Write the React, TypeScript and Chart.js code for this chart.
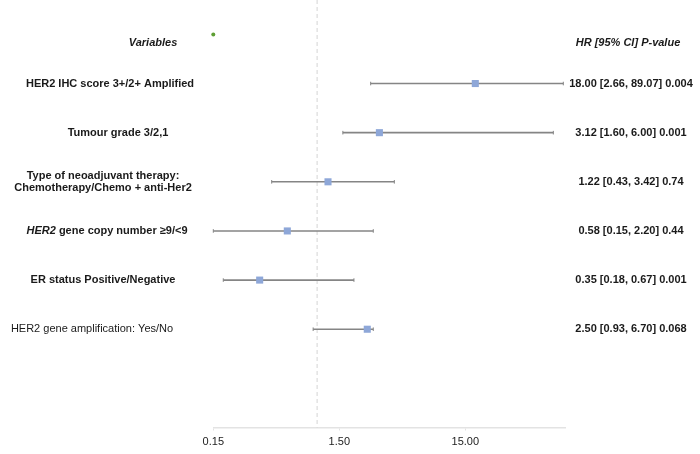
import React, { useEffect, useRef } from "react";
import { Chart, registerables } from "chart.js";

Chart.register(...registerables);

// ---------- data ----------
const VARIABLES = [
  "HER2 IHC score 3+/2+ Amplified",
  "Tumour grade 3/2,1",
  "Type of neoadjuvant therapy:\nChemotherapy/Chemo + anti-Her2",
  "*HER2* gene copy number \u22659/<9",
  "ER status Positive/Negative",
  "HER2 gene amplification: Yes/No",
];
const VARIABLE_BOLD = [true, true, true, true, true, false];
const HR = [18.0, 3.12, 1.22, 0.58, 0.35, 2.5];
const CI_LOW = [2.66, 1.6, 0.436, 0.15, 0.18, 0.93];
const CI_HIGH = [89.9, 74.9, 4.1, 2.79, 1.96, 2.79];
const RESULT_LABELS = [
  "18.00 [2.66, 89.07] 0.004",
  "3.12 [1.60, 6.00] 0.001",
  "1.22 [0.43, 3.42] 0.74",
  "0.58 [0.15, 2.20] 0.44",
  "0.35 [0.18, 0.67] 0.001",
  "2.50 [0.93, 6.70] 0.068",
];
const X_TICKS = [0.15, 1.5, 15];
const X_MIN = 0.15;
const X_MAX = 92.7;
const REFERENCE_HR = 1;
const MARKER_POINT = { x: 0.15, y: 0 };
const HEADER_LEFT = "Variables";
const HEADER_RIGHT = "HR [95% CI] P-value";

// ---------- layout (not data) ----------
const Y_MIN = -0.7;
const Y_MAX = 8;
const HEADER_ROW = 0.18;
const LABEL_CENTER_X = [110, 118, 103, 107, 103, 92];
const HEADER_LEFT_X = 153;
const RESULT_CENTER_X = 631;
const HEADER_RIGHT_X = 628;
const FONT = '"Liberation Sans", Arial, Helvetica, sans-serif';

function drawRich(ctx: CanvasRenderingContext2D, line: string, cx: number, y: number, bold: boolean) {
  const parts = line.split("*");
  const w = bold ? "bold " : "";
  const fonts = parts.map((_, i) => (i % 2 === 1 ? `italic ${w}11px ${FONT}` : `${w}11px ${FONT}`));
  let total = 0;
  const widths = parts.map((p, i) => {
    ctx.font = fonts[i];
    const m = ctx.measureText(p).width;
    total += m;
    return m;
  });
  let x = cx - total / 2;
  parts.forEach((p, i) => {
    ctx.font = fonts[i];
    ctx.textAlign = "left";
    ctx.fillText(p, x, y);
    x += widths[i];
  });
}

const textPlugin = {
  id: "forestText",
  afterDraw(chart: any) {
    const ctx = chart.ctx as CanvasRenderingContext2D;
    const ys = chart.scales.y;
    ctx.save();
    ctx.fillStyle = "#1a1a1a";
    ctx.textBaseline = "middle";
    const hy = ys.getPixelForValue(HEADER_ROW);
    ctx.font = `italic bold 11px ${FONT}`;
    ctx.textAlign = "center";
    ctx.fillText(HEADER_LEFT, HEADER_LEFT_X, hy);
    ctx.fillText(HEADER_RIGHT, HEADER_RIGHT_X, hy);
    VARIABLES.forEach((label, i) => {
      const y = ys.getPixelForValue(i + 1);
      const lines = label.split("\n");
      const lh = 12.5;
      lines.forEach((ln, j) => {
        const ly = y + (j - (lines.length - 1) / 2) * lh;
        drawRich(ctx, ln, LABEL_CENTER_X[i], ly, VARIABLE_BOLD[i]);
      });
      ctx.font = `bold 11px ${FONT}`;
      ctx.textAlign = "center";
      ctx.fillText(RESULT_LABELS[i], RESULT_CENTER_X, y);
    });
    ctx.restore();
  },
};

export default function App() {
  const ref = useRef<HTMLCanvasElement | null>(null);
  useEffect(() => {
    if (!ref.current) return;
    const whiskers = HR.map((_, i) => ({
      type: "scatter" as const,
      data: [
        { x: CI_LOW[i], y: i + 1 },
        { x: CI_HIGH[i], y: i + 1 },
      ],
      showLine: true,
      borderColor: "#858585",
      borderWidth: 1.6,
      pointStyle: "line" as const,
      rotation: 90,
      pointRadius: 1.8,
      pointBorderWidth: 1,
      pointBorderColor: "#858585",
      pointBackgroundColor: "#858585",
      clip: false as const,
      order: 2,
    }));
    const chart = new Chart(ref.current, {
      type: "scatter",
      data: {
        datasets: [
          {
            data: [
              { x: REFERENCE_HR, y: Y_MIN },
              { x: REFERENCE_HR, y: Y_MAX },
            ],
            showLine: true,
            borderColor: "#d4d4d4",
            borderWidth: 1,
            borderDash: [4, 3],
            pointRadius: 0,
            clip: false,
            order: 3,
          } as any,
          ...whiskers,
          {
            data: HR.map((v, i) => ({ x: v, y: i + 1 })),
            pointStyle: "rect",
            pointRadius: 5,
            backgroundColor: "#8ea7d8",
            borderColor: "#8ea7d8",
            borderWidth: 0,
            clip: false,
            order: 1,
          } as any,
          {
            data: [MARKER_POINT],
            pointRadius: 2,
            backgroundColor: "#5e9f34",
            borderWidth: 0,
            clip: false,
            order: 0,
          } as any,
        ],
      },
      options: {
        animation: false,
        responsive: false,
        events: [],
        layout: { autoPadding: false, padding: { left: 213.3, right: 135, top: 0, bottom: 0 } },
        plugins: { legend: { display: false }, tooltip: { enabled: false } },
        scales: {
          x: {
            type: "logarithmic",
            min: X_MIN,
            max: X_MAX,
            afterBuildTicks: (scale: any) => {
              scale.ticks = X_TICKS.map((v) => ({ value: v }));
            },
            afterFit: (scale: any) => {
              scale.height = 26.5;
            },
            ticks: {
              autoSkip: false,
              maxRotation: 0,
              padding: 5,
              color: "#222",
              font: { family: FONT, size: 11 },
              callback: (v: any) => Number(v).toFixed(2),
            },
            grid: { display: true, drawOnChartArea: false, tickLength: 3, color: "#e3e3e3" },
            border: { display: true, color: "#e3e3e3", width: 1.5 },
          },
          y: {
            type: "linear",
            display: false,
            reverse: true,
            min: Y_MIN,
            max: Y_MAX,
          },
        },
      },
      plugins: [textPlugin],
    });
    return () => chart.destroy();
  }, []);
  return (
    <div style={{ position: "fixed", left: 0, top: 0, width: 700, height: 454, background: "#fff" }}>
      <canvas ref={ref} width={700} height={454} style={{ display: "block" }} />
    </div>
  );
}
